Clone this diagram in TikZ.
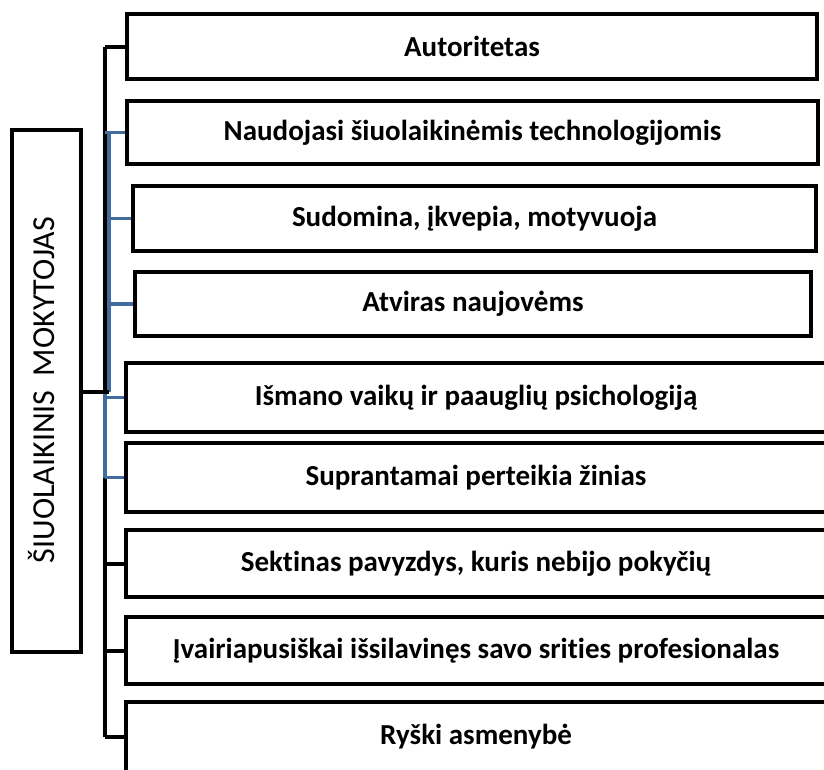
\documentclass[tikz,border=0pt]{standalone}
\usepackage{fontspec}
\setmainfont{Carlito}[Ligatures=NoCommon]
\definecolor{connblue}{RGB}{66,107,158}
\begin{document}
\begin{tikzpicture}[x=1pt,y=-1pt,
  box/.style={draw, line width=4.5pt, rectangle, inner sep=0pt, fill=white,
    font=\fontsize{29}{34}\selectfont\bfseries},
  blk/.style={draw=black, line width=4pt},
  blu/.style={draw=connblue, line width=3.5pt}]
\useasboundingbox (0,0) rectangle (824,769);
\clip (0,0) rectangle (824,769);
% main box
\node[draw, line width=4.5pt, minimum width=69pt, minimum height=522pt, inner sep=0pt]
  (main) at (46.5,391) {};
\node[rotate=90, font=\fontsize{32}{36}\selectfont] (mainlbl) at (42,390) {ŠIUOLAIKINIS\ \ MOKYTOJAS};
% boxes
\node[box, minimum width=690pt, minimum height=65pt] (b1) at (472,46.5) {Autoritetas};
\node[box, minimum width=691pt, minimum height=63pt] (b2) at (472.5,132.5) {Naudojasi šiuolaikinėmis technologijomis};
\node[box, minimum width=683pt, minimum height=65pt] (b3) at (474.5,218.5) {Sudomina, įkvepia, motyvuoja};
\node[box, minimum width=676pt, minimum height=64pt] (b4) at (473,304) {Atviras naujovėms};
\node[box, minimum width=700pt, minimum height=69pt] (b5) at (476,397.5) {Išmano vaikų ir paauglių psichologiją};
\node[box, minimum width=700pt, minimum height=69pt] (b6) at (476,477.5) {Suprantamai perteikia žinias};
\node[box, minimum width=700pt, minimum height=67pt] (b7) at (476,563.5) {Sektinas pavyzdys, kuris nebijo pokyčių};
\node[box, minimum width=700pt, minimum height=67pt] (b8) at (476,650.5) {Įvairiapusiškai išsilavinęs savo srities profesionalas};
\node[box, minimum width=700pt, minimum height=70pt] (b9) at (476,737) {Ryški asmenybė};
% spine coordinates
\coordinate (stop) at (105,46.5);
\coordinate (sjoin) at (105,392);
\coordinate (sjoinr) at (109,392);
\coordinate (sbluetop) at (109,132.5);
\coordinate (sblue2) at (105,477.5);
\coordinate (sbot) at (105,737);
\coordinate (bx) at (109,0);
\coordinate (sx) at (105,0);
% black spine
\draw[blk] (stop) -- (sjoin);
\draw[blk] (sblue2) -- (sbot);
% blue connectors
\draw[blu] (sbluetop) -- (sjoinr);
\draw[blu] (b2.west) -- (b2.west -| sx);
\draw[blu] (b3.west) -- (b3.west -| bx);
\draw[blu] (b4.west) -- (b4.west -| bx);
\draw[blu] (sjoin) -- (sblue2);
\draw[blu] (b5.west) -- (b5.west -| sx);
\draw[blu] (b6.west) -- (b6.west -| sx);
% black connectors
\draw[blk] (b1.west) -- (stop);
\draw[blk] (main.east |- sjoin) -- (sjoinr);
\draw[blk] (b7.west) -- (b7.west -| sx);
\draw[blk] (b8.west) -- (b8.west -| sx);
\draw[blk] (b9.west) -- (sbot);
\end{tikzpicture}
\end{document}
